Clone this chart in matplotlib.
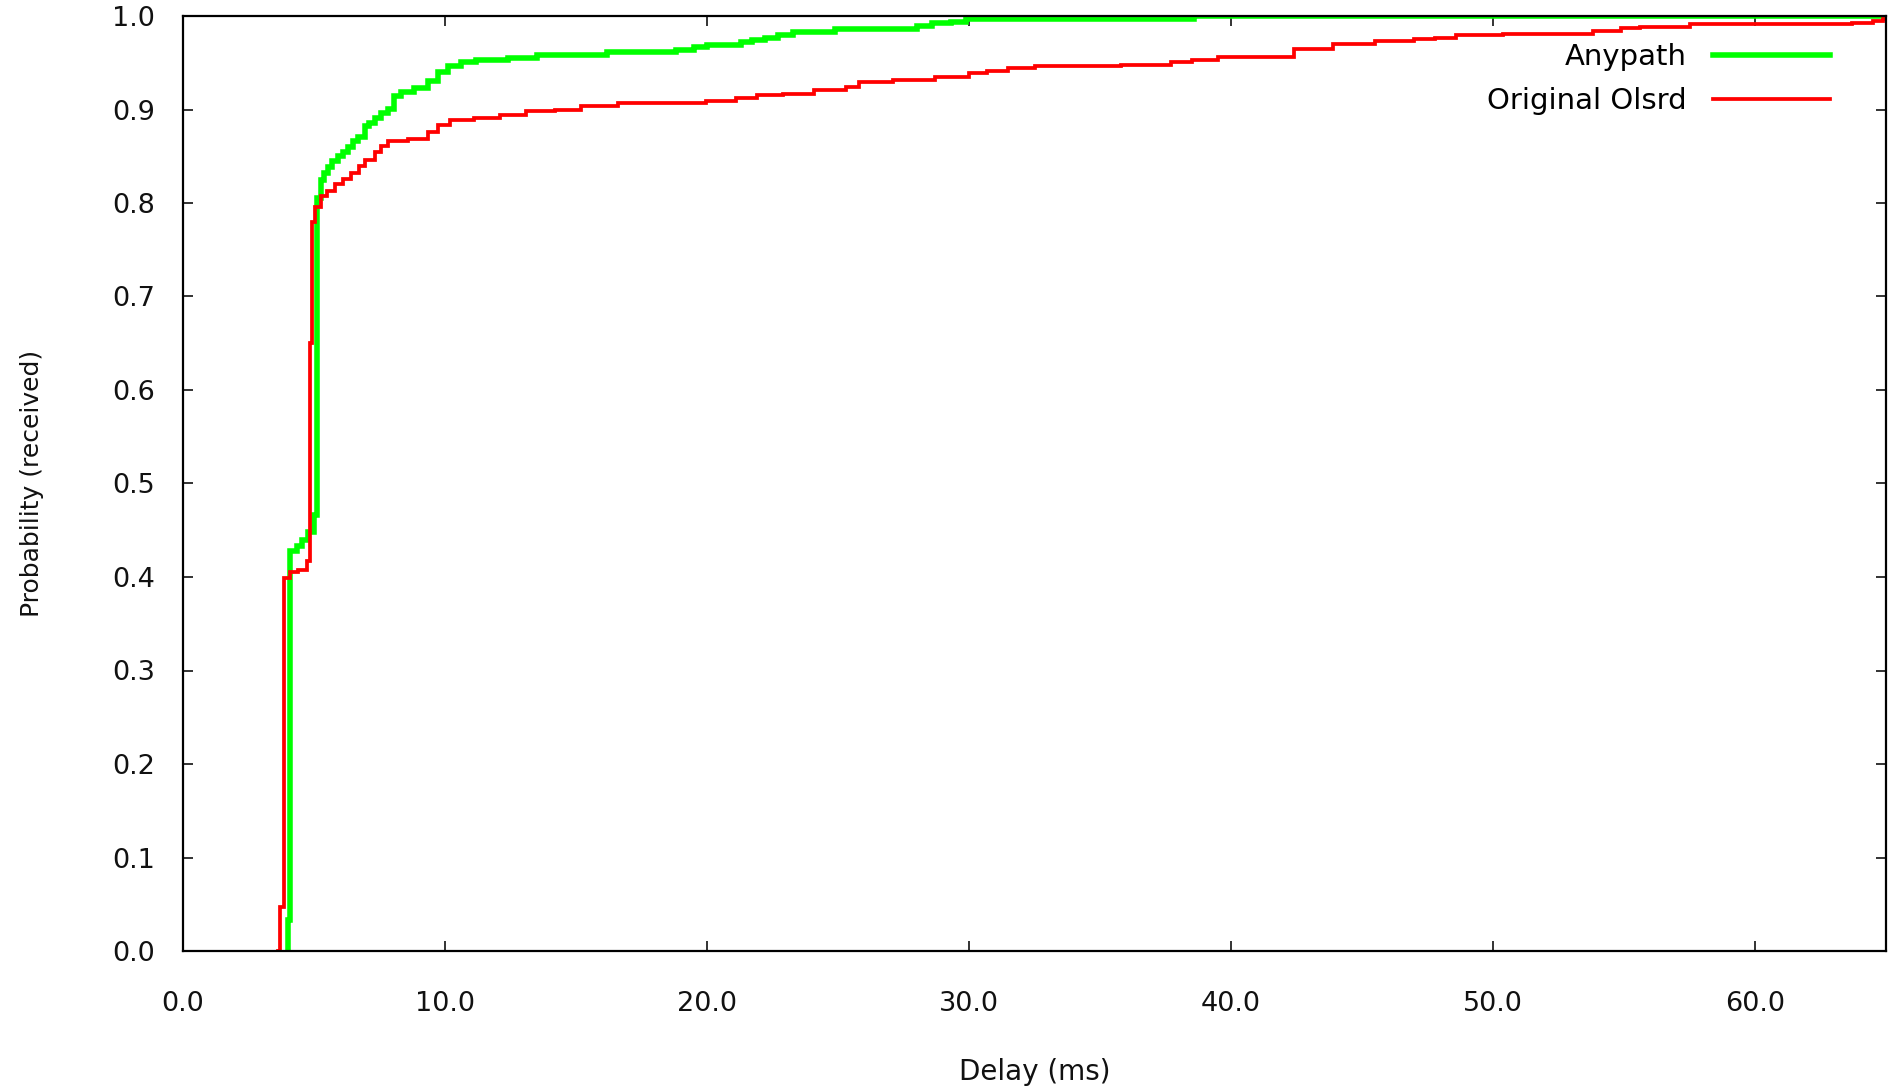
import matplotlib
matplotlib.use("Agg")
import matplotlib.pyplot as plt
from matplotlib.ticker import FormatStrFormatter, MultipleLocator

# Data, drawn as steps
anypath_delay = [4.02, 4.02, 4.08, 4.34, 4.53, 4.79, 5.01, 5.12, 5.28, 5.40, 5.53, 5.70,
                 5.91, 6.10, 6.29, 6.50, 6.67, 6.93, 7.10, 7.31, 7.55, 7.82, 8.07, 8.32,
                 8.83, 9.34, 9.72, 10.1, 10.6, 11.2, 12.4, 13.5, 16.2, 18.8, 19.5, 20.0,
                 21.3, 21.7, 22.2, 22.7, 23.3, 24.9, 28.0, 28.6, 29.3, 29.9, 38.6, 65.0]
anypath_prob = [0.0, 0.033, 0.428, 0.433, 0.440, 0.448, 0.466, 0.805, 0.825, 0.832, 0.839, 0.845,
                0.850, 0.855, 0.860, 0.866, 0.871, 0.882, 0.886, 0.891, 0.896, 0.901, 0.914, 0.919,
                0.923, 0.931, 0.940, 0.947, 0.951, 0.953, 0.955, 0.958, 0.961, 0.964, 0.967, 0.969,
                0.972, 0.974, 0.977, 0.980, 0.983, 0.986, 0.989, 0.992, 0.994, 0.997, 1.0, 1.0]

olsrd_delay = [3.62, 3.71, 3.85, 4.08, 4.40, 4.72, 4.85, 4.91, 5.03, 5.28, 5.50, 5.79,
               6.10, 6.42, 6.70, 6.93, 7.31, 7.55, 7.82, 8.58, 9.34, 9.72, 10.2, 11.1,
               12.1, 13.1, 14.2, 15.2, 16.6, 19.97, 21.1, 21.9, 22.9, 24.1, 25.3, 25.8,
               27.1, 28.7, 30.0, 30.7, 31.5, 32.5, 35.8, 37.7, 38.5, 39.5, 42.4, 43.9,
               45.5, 47.0, 47.8, 48.6, 50.4, 53.8, 54.9, 55.6, 57.5, 63.7, 64.5, 64.9, 65.0]
olsrd_prob = [0.0, 0.047, 0.399, 0.405, 0.408, 0.417, 0.65, 0.78, 0.796, 0.807, 0.813, 0.820,
              0.826, 0.832, 0.840, 0.846, 0.855, 0.861, 0.866, 0.868, 0.876, 0.883, 0.889, 0.891,
              0.894, 0.898, 0.900, 0.904, 0.907, 0.909, 0.912, 0.915, 0.917, 0.921, 0.924, 0.929,
              0.932, 0.935, 0.939, 0.941, 0.944, 0.946, 0.948, 0.951, 0.953, 0.956, 0.965, 0.970,
              0.973, 0.975, 0.977, 0.980, 0.981, 0.984, 0.987, 0.988, 0.991, 0.993, 0.995, 0.997, 0.997]

series_labels = ["Anypath", "Original Olsrd"]
x_ticks = [0, 10, 20, 30, 40, 50, 60]

plt.rcParams['font.family'] = ['DejaVu Sans']

W, H = 1890, 1088
fig = plt.figure(figsize=(W / 100, H / 100), dpi=100)
ax = fig.add_axes([183 / W, 1 - 951 / H, (1886 - 183) / W, (951 - 16) / H])

ax.plot(anypath_delay, anypath_prob, drawstyle='steps-post', color='#00ff00', lw=4.0,
        label=series_labels[0], solid_joinstyle='miter')
ax.plot(olsrd_delay, olsrd_prob, drawstyle='steps-post', color='#ff0000', lw=2.7,
        label=series_labels[1], solid_joinstyle='miter')

ax.set_xlim(0, 65)
ax.set_ylim(0, 1.0)
ax.set_xticks(x_ticks)
ax.yaxis.set_major_locator(MultipleLocator(0.1))
ax.xaxis.set_major_formatter(FormatStrFormatter('%.1f'))
ax.yaxis.set_major_formatter(FormatStrFormatter('%.1f'))

for s in ax.spines.values():
    s.set_linewidth(1.6)
    s.set_color('#000000')
    s.set_zorder(3)

ax.tick_params(axis='both', direction='in', length=7, width=1.2, top=True, right=True,
               labelsize=19.5, colors='#111111')
ax.tick_params(axis='x', pad=29)
ax.tick_params(axis='y', pad=20)

ax.set_xlabel("Delay (ms)", fontsize=20, labelpad=29, color='#111111')
ax.set_ylabel("Probability (received)", fontsize=18, labelpad=49, color='#111111')

leg = ax.legend(loc='upper right', bbox_to_anchor=(1830 / W, 1 - 43 / H),
                bbox_transform=fig.transFigure, frameon=False, markerfirst=False,
                fontsize=21, handlelength=4.0, handletextpad=0.9, labelspacing=0.55,
                borderpad=0, borderaxespad=0)

fig.savefig("out.png", dpi=100, facecolor='white')
